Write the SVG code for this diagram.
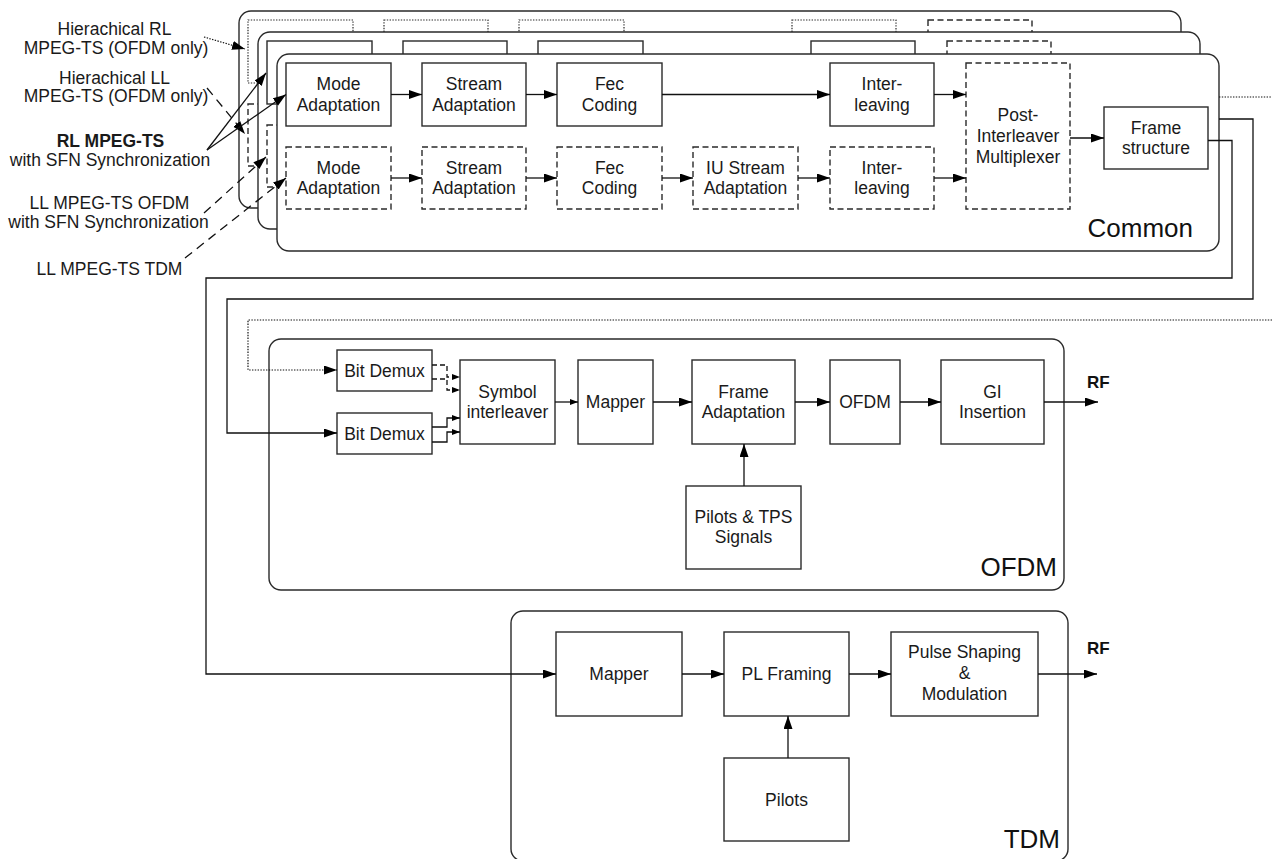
<svg xmlns="http://www.w3.org/2000/svg" width="1272" height="859" viewBox="0 0 1272 859">
  <defs>
    <style>
      .panel { fill: #fff; stroke: #2a2a2a; stroke-width: 1.4; }
      .box { fill: #fff; stroke: #2a2a2a; stroke-width: 1.4; }
      .dash { stroke-dasharray: 6 3.5; }
      .dot { stroke-dasharray: 1.4 1.4; stroke-width: 1.2; }
      .t { font-family: "Liberation Sans", Arial, sans-serif; font-size: 17.5px; fill: #1a1a1a; text-anchor: middle; }
      .b { font-weight: bold; }
      .big { font-family: "Liberation Sans", Arial, sans-serif; font-size: 26px; fill: #111; text-anchor: end; }
      .rf { font-family: "Liberation Sans", Arial, sans-serif; font-size: 17px; font-weight: bold; fill: #111; }
      .ln { fill: none; stroke: #111; stroke-width: 1.3; }
      .lnd { stroke-dasharray: 9 6; }
      .lnds { stroke-dasharray: 5 3; }
      .lno { stroke-dasharray: 1.4 1.4; stroke-width: 1.2; }
      .a { marker-end: url(#arrow); }
      .s { marker-end: url(#arrow-small); }
    </style>
    <marker id="arrow" markerUnits="userSpaceOnUse" markerWidth="14" markerHeight="10" refX="13" refY="4.5" orient="auto">
      <path d="M0,0 L13,4.5 L0,9 Z" fill="#000"/>
    </marker>
    <marker id="arrow-small" markerUnits="userSpaceOnUse" markerWidth="9" markerHeight="7" refX="8" refY="3" orient="auto">
      <path d="M0,0 L8,3 L0,6 Z" fill="#000"/>
    </marker>
  </defs>

  <!-- hierarchical stream chain (rearmost layer) -->
  <g id="common-hier" transform="translate(-38,-43)">
    <rect class="panel" x="277" y="54" width="942" height="197" rx="12"/>
    <rect class="box dot" x="286" y="63" width="105" height="63"/>
    <rect class="box dot" x="422" y="63" width="104" height="63"/>
    <rect class="box dot" x="557" y="63" width="105" height="63"/>
    <rect class="box dot" x="830" y="63" width="104" height="63"/>
    <rect class="box dash" x="966" y="63" width="104" height="146"/>
    <rect class="box" x="1104" y="107" width="104" height="62"/>
    <rect class="box dash" x="286" y="147" width="105" height="62"/>
    <rect class="box dash" x="422" y="147" width="104" height="62"/>
    <rect class="box dash" x="557" y="147" width="105" height="62"/>
    <rect class="box dash" x="693" y="147" width="105" height="62"/>
    <rect class="box dash" x="830" y="147" width="104" height="62"/>
  </g>

  <!-- second chain layer -->
  <g id="common-mid" transform="translate(-19,-22)">
    <rect class="panel" x="277" y="54" width="942" height="197" rx="12"/>
    <rect class="box" x="286" y="63" width="105" height="63"/>
    <rect class="box" x="422" y="63" width="104" height="63"/>
    <rect class="box" x="557" y="63" width="105" height="63"/>
    <rect class="box" x="830" y="63" width="104" height="63"/>
    <rect class="box dash" x="966" y="63" width="104" height="146"/>
    <rect class="box" x="1104" y="107" width="104" height="62"/>
    <rect class="box dash" x="286" y="147" width="105" height="62"/>
    <rect class="box dash" x="422" y="147" width="104" height="62"/>
    <rect class="box dash" x="557" y="147" width="105" height="62"/>
    <rect class="box dash" x="693" y="147" width="105" height="62"/>
    <rect class="box dash" x="830" y="147" width="104" height="62"/>
  </g>

  <!-- front chain -->
  <g id="common">
    <rect class="panel" x="277" y="54" width="942" height="197" rx="12"/>
    <text class="big" x="1193" y="237">Common</text>
  </g>
  <g id="mode-adaptation-1">
    <rect class="box" x="286" y="63" width="105" height="63"/>
    <text class="t" x="338.5" y="90">Mode</text><text class="t" x="338.5" y="110.5">Adaptation</text>
  </g>
  <g id="stream-adaptation-1">
    <rect class="box" x="422" y="63" width="104" height="63"/>
    <text class="t" x="474" y="90">Stream</text><text class="t" x="474" y="110.5">Adaptation</text>
  </g>
  <g id="fec-coding-1">
    <rect class="box" x="557" y="63" width="105" height="63"/>
    <text class="t" x="609.5" y="90">Fec</text><text class="t" x="609.5" y="110.5">Coding</text>
  </g>
  <g id="interleaving-1">
    <rect class="box" x="830" y="63" width="104" height="63"/>
    <text class="t" x="882" y="90">Inter-</text><text class="t" x="882" y="110.5">leaving</text>
  </g>
  <g id="post-interleaver-mux">
    <rect class="box dash" x="966" y="63" width="104" height="146"/>
    <text class="t" x="1018" y="121">Post-</text><text class="t" x="1018" y="142">Interleaver</text><text class="t" x="1018" y="163">Multiplexer</text>
  </g>
  <g id="frame-structure">
    <rect class="box" x="1104" y="107" width="104" height="62"/>
    <text class="t" x="1156" y="133.5">Frame</text><text class="t" x="1156" y="154">structure</text>
  </g>
  <g id="mode-adaptation-2">
    <rect class="box dash" x="286" y="147" width="105" height="62"/>
    <text class="t" x="338.5" y="173.5">Mode</text><text class="t" x="338.5" y="194">Adaptation</text>
  </g>
  <g id="stream-adaptation-2">
    <rect class="box dash" x="422" y="147" width="104" height="62"/>
    <text class="t" x="474" y="173.5">Stream</text><text class="t" x="474" y="194">Adaptation</text>
  </g>
  <g id="fec-coding-2">
    <rect class="box dash" x="557" y="147" width="105" height="62"/>
    <text class="t" x="609.5" y="173.5">Fec</text><text class="t" x="609.5" y="194">Coding</text>
  </g>
  <g id="iu-stream-adaptation">
    <rect class="box dash" x="693" y="147" width="105" height="62"/>
    <text class="t" x="745.5" y="173.5">IU Stream</text><text class="t" x="745.5" y="194">Adaptation</text>
  </g>
  <g id="interleaving-2">
    <rect class="box dash" x="830" y="147" width="104" height="62"/>
    <text class="t" x="882" y="173.5">Inter-</text><text class="t" x="882" y="194">leaving</text>
  </g>

  <!-- OFDM transmitter -->
  <g id="ofdm">
    <rect class="panel" x="269" y="339" width="795" height="251" rx="12"/>
    <text class="big" x="1057" y="576">OFDM</text>
  </g>
  <g id="bit-demux-1">
    <rect class="box" x="337" y="350" width="95" height="41"/>
    <text class="t" x="384.5" y="376.5">Bit Demux</text>
  </g>
  <g id="bit-demux-2">
    <rect class="box" x="337" y="413" width="95" height="41"/>
    <text class="t" x="384.5" y="439.5">Bit Demux</text>
  </g>
  <g id="symbol-interleaver">
    <rect class="box" x="460" y="360" width="95" height="84"/>
    <text class="t" x="507.5" y="397.5">Symbol</text><text class="t" x="507.5" y="418">interleaver</text>
  </g>
  <g id="ofdm-mapper">
    <rect class="box" x="578" y="360" width="75" height="84"/>
    <text class="t" x="615.5" y="408">Mapper</text>
  </g>
  <g id="frame-adaptation">
    <rect class="box" x="692" y="360" width="103" height="84"/>
    <text class="t" x="743.5" y="397.5">Frame</text><text class="t" x="743.5" y="418">Adaptation</text>
  </g>
  <g id="ofdm-block">
    <rect class="box" x="830" y="360" width="70" height="84"/>
    <text class="t" x="865" y="408">OFDM</text>
  </g>
  <g id="gi-insertion">
    <rect class="box" x="941" y="360" width="103" height="84"/>
    <text class="t" x="992.5" y="397.5">GI</text><text class="t" x="992.5" y="418">Insertion</text>
  </g>
  <g id="pilots-tps">
    <rect class="box" x="686" y="486" width="115" height="83"/>
    <text class="t" x="743.5" y="522.5">Pilots &amp; TPS</text><text class="t" x="743.5" y="543">Signals</text>
  </g>
  <text class="rf" x="1087" y="388">RF</text>

  <!-- TDM transmitter -->
  <g id="tdm">
    <rect class="panel" x="511" y="611" width="557" height="250" rx="12"/>
    <text class="big" x="1060" y="848">TDM</text>
  </g>
  <g id="tdm-mapper">
    <rect class="box" x="556" y="632" width="126" height="84"/>
    <text class="t" x="619" y="680">Mapper</text>
  </g>
  <g id="pl-framing">
    <rect class="box" x="724" y="632" width="125" height="84"/>
    <text class="t" x="786.5" y="680">PL Framing</text>
  </g>
  <g id="pulse-shaping">
    <rect class="box" x="891" y="632" width="147" height="84"/>
    <text class="t" x="964.5" y="658">Pulse Shaping</text><text class="t" x="964.5" y="679">&amp;</text><text class="t" x="964.5" y="700">Modulation</text>
  </g>
  <g id="pilots">
    <rect class="box" x="724" y="758" width="125" height="83"/>
    <text class="t" x="786.5" y="805.5">Pilots</text>
  </g>
  <text class="rf" x="1087" y="654">RF</text>

  <!-- input streams -->
  <g id="in-hier-rl">
    <text class="t" x="114.5" y="35">Hierachical RL</text><text class="t" x="116" y="54">MPEG-TS (OFDM only)</text>
  </g>
  <g id="in-hier-ll">
    <text class="t" x="114.5" y="83.5">Hierachical LL</text><text class="t" x="116" y="102">MPEG-TS (OFDM only)</text>
  </g>
  <g id="in-rl">
    <text class="t b" x="110.5" y="146.5">RL MPEG-TS</text><text class="t" x="110" y="166">with SFN Synchronization</text>
  </g>
  <g id="in-ll-ofdm">
    <text class="t" x="109.5" y="209">LL MPEG-TS OFDM</text><text class="t" x="108.5" y="228">with SFN Synchronization</text>
  </g>
  <g id="in-ll-tdm">
    <text class="t" x="109.5" y="275">LL MPEG-TS TDM</text>
  </g>

  <g id="connectors">
    <!-- inputs -->
    <path class="ln lno a" d="M204,37 L245,49"/>
    <path class="ln lnd a" d="M207,88 L245,134"/>
    <path class="ln a" d="M207,150 L286,94.5"/>
    <path class="ln a" d="M207,150 L266,73"/>
    <path class="ln lnd a" d="M204,213 L266,157"/>
    <path class="ln lnd a" d="M185,258 L286,178"/>

    <!-- common chain -->
    <path class="ln a" d="M391,94.5 H422"/>
    <path class="ln a" d="M526,94.5 H557"/>
    <path class="ln a" d="M662,94.5 H830"/>
    <path class="ln a" d="M934,94.5 H966"/>
    <path class="ln a" d="M391,178 H422"/>
    <path class="ln a" d="M526,178 H557"/>
    <path class="ln a" d="M662,178 H693"/>
    <path class="ln a" d="M798,178 H830"/>
    <path class="ln a" d="M934,178 H966"/>
    <path class="ln a" d="M1070,138 H1104"/>

    <!-- chain outputs to transmitters -->
    <path class="ln lno" d="M1219,97 H1272"/>
    <path class="ln lno a" d="M1272,320 H248 V370 H337"/>
    <path class="ln a" d="M1219,119 H1253 V299 H227 V433 H337"/>
    <path class="ln a" d="M1208,140.5 H1232 V278 H206 V674 H556"/>

    <!-- OFDM -->
    <path class="ln lnds s" d="M432,365 H447 V377 H460"/>
    <path class="ln lnds s" d="M432,379 H447 V390 H460"/>
    <path class="ln s" d="M432,427 H447 V418 H460"/>
    <path class="ln s" d="M432,442 H447 V432 H460"/>
    <path class="ln s" d="M555,402 H578"/>
    <path class="ln a" d="M653,402 H692"/>
    <path class="ln a" d="M795,402 H830"/>
    <path class="ln a" d="M900,402 H941"/>
    <path class="ln a" d="M1044,402 H1098"/>
    <path class="ln a" d="M744,486 V444"/>

    <!-- TDM -->
    <path class="ln a" d="M682,674 H724"/>
    <path class="ln a" d="M849,674 H891"/>
    <path class="ln a" d="M1038,674 H1097"/>
    <path class="ln a" d="M788,758 V716"/>
  </g>
</svg>
